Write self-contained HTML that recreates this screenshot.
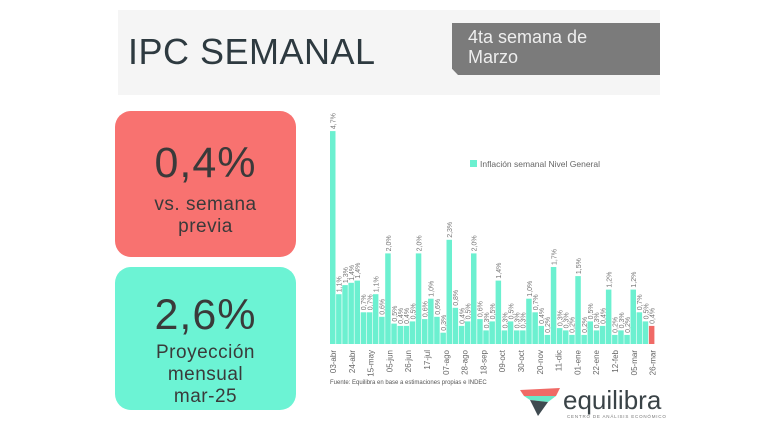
<!DOCTYPE html>
<html><head><meta charset="utf-8"><style>
body{margin:0;width:768px;height:431px;background:#fff;overflow:hidden;font-family:"Liberation Sans",sans-serif;position:relative}
.hdr{position:absolute;left:118px;top:10px;width:542px;height:85px;background:#f5f5f5}
.title{position:absolute;left:128px;top:31px;font-size:36px;color:#2e3a40;letter-spacing:0.5px}
.tag{position:absolute;left:452px;top:23px;width:208px;height:52px;background:#7b7b7b;color:#eee;font-size:18px;line-height:20px;box-sizing:border-box;padding:4px 0 0 16px;clip-path:polygon(0 0,100% 0,100% 100%,6px 100%,0 88%)}
.box{position:absolute;left:115px;width:181px;border-radius:16px;text-align:center;color:#3a3a3a}
.big{font-size:43px;letter-spacing:1px}
.sm{font-size:19px;line-height:22px;letter-spacing:0.5px}
</style></head><body>
<div class="hdr"></div>
<div class="title">IPC SEMANAL</div>
<div class="tag">4ta semana de<br>Marzo</div>
<div class="box" style="top:111px;height:146px;background:#f87270">
<div class="big" style="margin-top:28px">0,4%</div>
<div class="sm" style="margin-top:6px">vs. semana<br>previa</div></div>
<div class="box" style="top:267px;height:143px;background:#6cf3d4">
<div class="big" style="margin-top:24px">2,6%</div>
<div class="sm" style="margin-top:2px">Proyección<br>mensual<br>mar-25</div></div>
<svg id="ch" width="768" height="431" style="position:absolute;left:0;top:0">
<rect x="470" y="160" width="7" height="7" fill="#6cf0d0"/>
<text x="480" y="167" font-size="8.5" fill="#666">Inflación semanal Nivel General</text>
<text x="330" y="384" font-size="6" fill="#555">Fuente: Equilibra en base a estimaciones propias e INDEC</text>
<polygon points="520,390 560,388 556,396 524,396" fill="#f06a66"/>
<polygon points="524,396 556,396 548,402 530,400" fill="#6ae8c8"/>
<polygon points="530,400 548,402 538,416" fill="#3f4a50"/>
<text x="563" y="409" font-size="26" fill="#3a4347">equilibra</text>
<text x="567" y="418" font-size="4.5" fill="#777" letter-spacing="0.8">CENTRO DE ANÁLISIS ECONÓMICO</text>
</svg>
<script>
var v=[4.7,1.1,1.3,1.35,1.4,0.7,0.7,1.1,0.6,2.0,0.45,0.4,0.4,0.5,2.0,0.55,1.0,0.6,0.25,2.3,0.8,0.4,0.5,2.0,0.55,0.3,0.5,1.4,0.3,0.5,0.3,0.3,1.0,0.7,0.4,0.2,1.7,0.35,0.3,0.2,1.5,0.2,0.5,0.3,0.4,1.2,0.2,0.3,0.2,1.2,0.7,0.5,0.4];
var s=document.getElementById('ch'),h='';
var n=v.length,w=325/n;
for(var i=0;i<n;i++){var x=330+i*w,hh=v[i]*45.3,y=344-hh;
h+='<rect x="'+x.toFixed(1)+'" y="'+y.toFixed(1)+'" width="'+(w-0.6).toFixed(1)+'" height="'+hh.toFixed(1)+'" fill="'+(i==n-1?'#f06a66':'#6cf0d0')+'"/>';
var lx=x+w/2+2.5;h+='<text transform="translate('+lx.toFixed(1)+','+(y-2).toFixed(1)+') rotate(-90)" font-size="7" fill="#777">'+v[i].toFixed(1).replace('.',',')+'%</text>';}
var L=['03-abr','24-abr','15-may','05-jun','26-jun','17-jul','07-ago','28-ago','18-sep','09-oct','30-oct','20-nov','11-dic','01-ene','22-ene','12-feb','05-mar','26-mar'];
for(var j=0;j<L.length;j++){var lx=333+j*18.8+3;h+='<text transform="translate('+lx.toFixed(1)+',350) rotate(-90)" font-size="8" fill="#666" text-anchor="end">'+L[j]+'</text>';}
s.insertAdjacentHTML('beforeend',h);
</script>
</body></html>
